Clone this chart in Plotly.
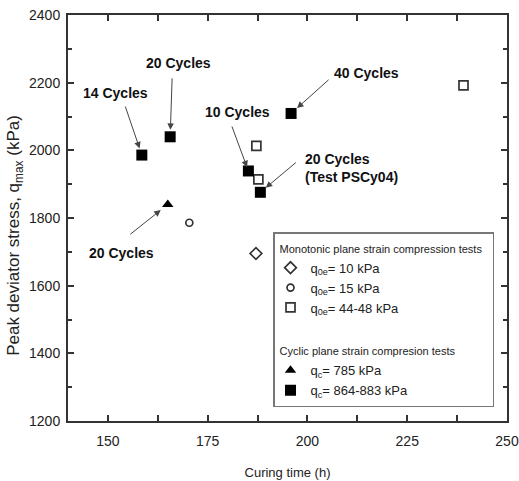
import plotly.graph_objects as go

# Peak deviator stress versus curing time
mono_10_time = [187.1]
mono_10_q = [1695]
mono_15_time = [170.4]
mono_15_q = [1786]
mono_44_time = [187.2, 187.7, 239.1]
mono_44_q = [2013, 1914, 2192]
cyc_785_time = [165.0]
cyc_785_q = [1840]
cyc_864_time = [158.5, 165.6, 185.2, 188.2, 195.9]
cyc_864_q = [1986, 2040, 1939, 1876, 2109]

x_ticks = [150, 175, 200, 225, 250]
y_ticks = [1200, 1400, 1600, 1800, 2000, 2200, 2400]

FONT = "Liberation Sans, Arial, sans-serif"

fig = go.Figure()


def add(name, xs, ys, symbol, size, filled, group, gtitle=None):
    fig.add_trace(go.Scatter(
        x=xs, y=ys, mode="markers", name=name,
        legendgroup=group,
        legendgrouptitle=dict(text=gtitle, font=dict(family=FONT, size=11, color="#222")) if gtitle else None,
        marker=dict(symbol=symbol, size=size,
                    color="black" if filled else "white",
                    line=dict(color="black" if filled else "#333", width=0 if filled else 1.7)),
    ))


add("q<sub>0e</sub>= 10 kPa", mono_10_time, mono_10_q, "diamond", 9, False, "mono",
    "Monotonic plane strain compression tests")
add("q<sub>0e</sub>= 15 kPa", mono_15_time, mono_15_q, "circle", 7, False, "mono")
add("q<sub>0e</sub>= 44-48 kPa", mono_44_time, mono_44_q, "square", 9, False, "mono")
add("q<sub>c</sub>= 785 kPa", cyc_785_time, cyc_785_q, "triangle-up", 10, True, "cyc",
    "Cyclic plane strain compresion tests")
add("q<sub>c</sub>= 864-883 kPa", cyc_864_time, cyc_864_q, "square", 11, True, "cyc")

# Cycle-count callouts: (label, x, y, target series, index, tail dx, tail dy, standoff)
callouts = [
    ("14 Cycles", 152.0, 2169, "c864", 0, -17, -50, 7),
    ("20 Cycles", 167.8, 2258, "c864", 1, 2, -60, 7),
    ("20 Cycles", 153.5, 1696, "c785", 0, -39, 31, 9),
    ("10 Cycles", 182.4, 2113, "c864", 2, -17, -46, 4),
    ("40 Cycles", 214.7, 2228, "c864", 4, 39, -35, 8),
]
series = {"c864": (cyc_864_time, cyc_864_q), "c785": (cyc_785_time, cyc_785_q)}
label_font = dict(family=FONT, size=14, color="#111", weight="bold")

for text, tx, ty, key, idx, dx, dy, so in callouts:
    sx, sy = series[key]
    fig.add_annotation(x=sx[idx], y=sy[idx], ax=dx, ay=dy, text="", showarrow=True,
                       arrowhead=2, arrowsize=1.3, arrowwidth=1, arrowcolor="#444", standoff=so)
    fig.add_annotation(x=tx, y=ty, text=text, showarrow=False, font=label_font)

# Test PSCy04 callout
fig.add_annotation(x=cyc_864_time[3], y=cyc_864_q[3], ax=37, ay=-31, text="", showarrow=True,
                   arrowhead=2, arrowsize=1.3, arrowwidth=1, arrowcolor="#444", standoff=7)
fig.add_annotation(x=198.9, y=1947, text="20 Cycles<br>(Test PSCy04)", showarrow=False,
                   xanchor="left", align="left", font=label_font)

# y-axis title
fig.add_annotation(xref="paper", yref="paper", x=0, y=0.456, xshift=-53, xanchor="center",
                   yanchor="middle",
                   text="Peak deviator stress, q<sub>max</sub> (kPa)", textangle=-90,
                   showarrow=False, font=dict(family=FONT, size=17, color="#222"))

axis_common = dict(
    showgrid=False, zeroline=False, showline=True, linecolor="#333", linewidth=2,
    mirror="ticks", ticks="inside", ticklen=6, tickwidth=1.5, tickcolor="#333",
    tickfont=dict(family=FONT, size=14, color="#222"), automargin=False,
)

fig.update_xaxes(
    range=[140, 250], tickvals=x_ticks, ticktext=[str(v) for v in x_ticks],
    minor=dict(dtick=12.5, tick0=150, ticks="inside", ticklen=6, tickwidth=1.5, tickcolor="#333"),
    title=dict(text="Curing time (h)", font=dict(family=FONT, size=13, color="#222"), standoff=20),
    ticklabelstandoff=6,
    **axis_common,
)
fig.update_yaxes(
    range=[1200, 2400], tickvals=y_ticks, ticktext=[str(v) for v in y_ticks],
    minor=dict(dtick=100, ticks="inside", ticklen=4, tickwidth=1.5, tickcolor="#333"),
    ticklabelstandoff=3,
    **axis_common,
)

fig.update_layout(
    width=519, height=481,
    margin=dict(l=68, r=12, t=15, b=60, autoexpand=False),
    plot_bgcolor="white", paper_bgcolor="white",
    legend=dict(
        x=0.467, y=0.465, xanchor="left", yanchor="top",
        bordercolor="#777", borderwidth=1.5, bgcolor="white",
        font=dict(family=FONT, size=13, color="#222"),
        tracegroupgap=24, indentation=-4,
    ),
)

fig.write_html("out.html")
